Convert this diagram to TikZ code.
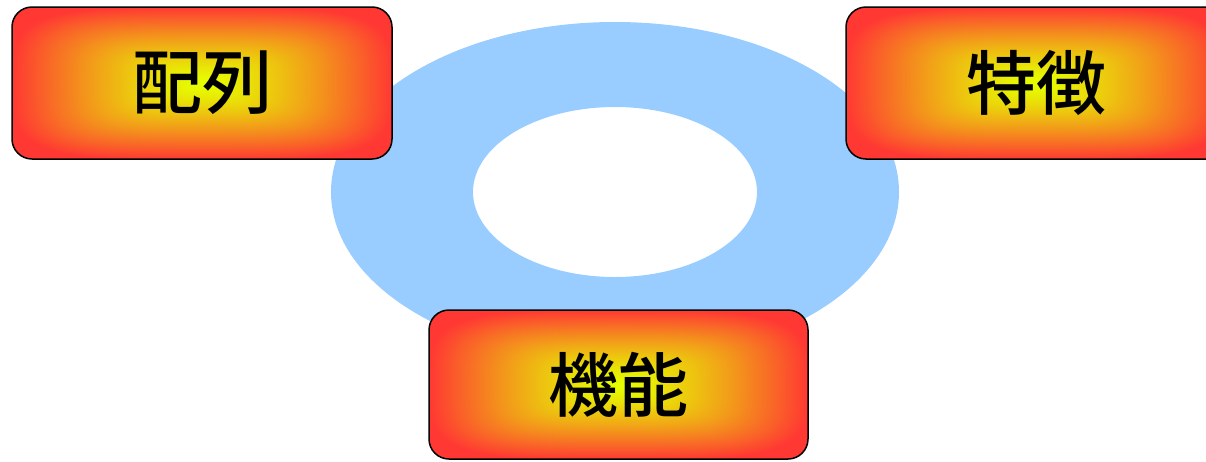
\documentclass[tikz,border=0pt]{standalone}
\usepackage{fontspec}
\newfontfamily\jpfont{Noto Sans CJK JP Medium}
\pgfdeclarefunctionalshading{boxshade}{\pgfpointorigin}{\pgfpoint{100bp}{100bp}}{}{50 sub 25 div dup mul dup mul exch 50 sub 25 div dup mul dup mul add 0.25 exp dup 1 sub abs neg 1 add add 2 div 1.3 exp dup 0.1 mul 0.9 add exch dup 0.78 mul neg 1 add exch 0.2 mul}
\definecolor{ringblue}{HTML}{99CCFF}
\tikzset{
  conceptbox/.style={rectangle, rounded corners=20pt, draw=black, line width=1.5pt,
    shade, shading=boxshade, minimum width=380pt, minimum height=152pt,
    inner sep=0pt, font=\jpfont\fontsize{70pt}{70pt}\selectfont, text=black},
  ring/.style={fill=ringblue, even odd rule, draw=none}
}
\begin{document}
\begin{tikzpicture}[x=1pt,y=-1pt]
\path[use as bounding box, clip] (0,0) rectangle (1206,461);
\fill[ring] (615,192) ellipse [x radius=284, y radius=170]
            (615,192) ellipse [x radius=142, y radius=85];
\node[conceptbox] (hairetsu) at (202,83) {配列};
\node[conceptbox] (tokuchou) at (1036,83) {特徴};
\node[conceptbox, minimum width=379pt, minimum height=149pt] (kinou) at (618.5,384.5) {機能};
\end{tikzpicture}
\end{document}
